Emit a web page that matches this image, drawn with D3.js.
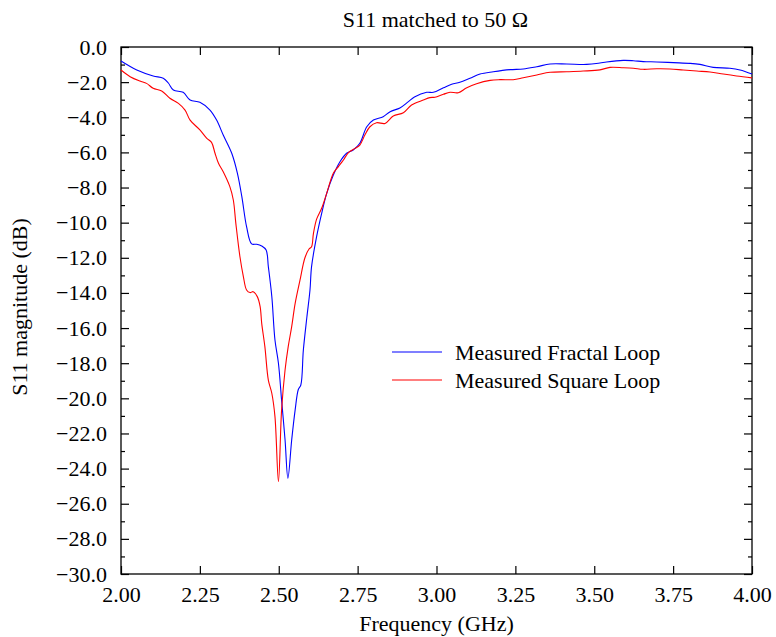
<!DOCTYPE html>
<html>
<head>
<meta charset="utf-8">
<script src="https://cdn.jsdelivr.net/npm/d3@7"></script>
<style>
  html, body { margin: 0; padding: 0; background: #fff; }
  svg { display: block; font-family: "Liberation Serif", "DejaVu Serif", serif; }
</style>
</head>
<body>
<svg id="chart" width="776" height="637"></svg>
<script>
// Measured return loss, frequency in GHz, magnitude in dB
const fractalFreq = [2.000, 2.050, 2.102, 2.134, 2.150, 2.166, 2.197, 2.219, 2.250, 2.282, 2.303, 2.324, 2.351, 2.369, 2.383, 2.398, 2.414, 2.430, 2.446, 2.460, 2.467, 2.478, 2.488, 2.499, 2.509, 2.520, 2.529, 2.541, 2.552, 2.562, 2.570, 2.578, 2.589, 2.599, 2.604, 2.620, 2.636, 2.652, 2.673, 2.694, 2.715, 2.736, 2.757, 2.779, 2.800, 2.831, 2.853, 2.884, 2.911, 2.930, 2.969, 2.990, 3.022, 3.048, 3.074, 3.106, 3.138, 3.180, 3.233, 3.275, 3.318, 3.360, 3.413, 3.476, 3.518, 3.539, 3.592, 3.624, 3.655, 3.698, 3.751, 3.804, 3.835, 3.877, 3.930, 3.962, 4.000];
const fractalS11 = [-0.80, -1.31, -1.65, -1.78, -2.05, -2.45, -2.58, -3.02, -3.15, -3.59, -4.16, -5.01, -6.05, -7.19, -8.52, -10.23, -11.21, -11.23, -11.33, -11.56, -12.50, -14.20, -16.68, -18.00, -20.10, -22.37, -24.55, -22.37, -20.66, -19.50, -19.24, -17.25, -15.40, -13.83, -12.50, -10.80, -9.47, -8.33, -7.29, -6.53, -6.05, -5.86, -5.48, -4.54, -4.16, -3.97, -3.68, -3.47, -3.11, -2.85, -2.58, -2.58, -2.32, -2.12, -2.01, -1.78, -1.54, -1.41, -1.29, -1.25, -1.12, -0.97, -0.97, -0.99, -0.91, -0.85, -0.76, -0.78, -0.83, -0.85, -0.89, -0.93, -0.99, -1.16, -1.21, -1.31, -1.54];

const squareFreq = [2.000, 2.029, 2.060, 2.081, 2.102, 2.129, 2.155, 2.182, 2.203, 2.219, 2.250, 2.272, 2.287, 2.298, 2.309, 2.324, 2.345, 2.356, 2.364, 2.377, 2.388, 2.398, 2.409, 2.419, 2.432, 2.441, 2.446, 2.456, 2.467, 2.478, 2.488, 2.499, 2.509, 2.520, 2.530, 2.541, 2.552, 2.567, 2.583, 2.596, 2.604, 2.610, 2.620, 2.636, 2.652, 2.673, 2.689, 2.705, 2.721, 2.742, 2.757, 2.773, 2.789, 2.810, 2.837, 2.863, 2.895, 2.921, 2.958, 2.979, 2.995, 3.022, 3.043, 3.069, 3.096, 3.127, 3.170, 3.201, 3.243, 3.275, 3.318, 3.360, 3.413, 3.465, 3.518, 3.550, 3.592, 3.624, 3.655, 3.698, 3.740, 3.782, 3.825, 3.867, 3.909, 3.951, 4.000];
const squareS11 = [-1.31, -1.69, -1.94, -2.07, -2.35, -2.50, -2.92, -3.21, -3.59, -4.16, -4.72, -5.20, -5.43, -6.05, -6.62, -7.10, -7.95, -8.71, -10.04, -11.94, -13.08, -13.83, -13.98, -13.93, -14.21, -14.78, -15.73, -17.06, -18.96, -19.71, -21.04, -24.74, -20.66, -18.39, -17.06, -15.92, -14.59, -13.30, -12.00, -11.50, -11.37, -10.61, -9.80, -9.18, -8.33, -7.19, -6.81, -6.43, -6.01, -5.77, -5.58, -5.01, -4.54, -4.31, -4.35, -3.93, -3.74, -3.30, -3.02, -2.88, -2.86, -2.69, -2.58, -2.60, -2.32, -2.09, -1.90, -1.86, -1.86, -1.75, -1.59, -1.44, -1.41, -1.37, -1.30, -1.16, -1.18, -1.21, -1.27, -1.24, -1.25, -1.31, -1.37, -1.42, -1.54, -1.65, -1.76];

const seriesNames = ["Measured Fractal Loop", "Measured Square Loop"];
const seriesColors = ["#0000ff", "#ff0000"];

const xTicks = [2.00, 2.25, 2.50, 2.75, 3.00, 3.25, 3.50, 3.75, 4.00];
const yMajorTicks = d3.range(0, -31, -2);
const yMinorTicks = d3.range(-1, -30, -2);

const chartTitle = "S11 matched to 50 \u03A9";
const xTitle = "Frequency (GHz)";
const yTitle = "S11 magnitude (dB)";

// Plot frame
const plotLeft = 121, plotRight = 752, plotTop = 47, plotBottom = 574;

const svg = d3.select("#chart");
const x = d3.scaleLinear().domain([2, 4]).range([plotLeft, plotRight]);
const y = d3.scaleLinear().domain([-30, 0]).range([plotBottom, plotTop]);

const fmtY = v => (v < 0 ? "\u2212" : "") + Math.abs(v).toFixed(1);
const fmtX = v => v.toFixed(2);

const fontSize = 22;

// Bottom axis: inward major ticks and labels
const xBottom = d3.axisBottom(x).tickValues(xTicks).tickFormat(fmtX)
  .tickSizeInner(-8).tickSizeOuter(0).tickPadding(12);
const gxb = svg.append("g").attr("transform", `translate(0,${plotBottom})`).call(xBottom);

// Top axis: ticks only
const xTopAxis = d3.axisTop(x).tickValues(xTicks).tickFormat("")
  .tickSizeInner(-8).tickSizeOuter(0);
const gxt = svg.append("g").attr("transform", `translate(0,${plotTop})`).call(xTopAxis);

// Left axis: major labelled ticks plus minor ticks
const yLeft = d3.axisLeft(y).tickValues(yMajorTicks).tickFormat(fmtY)
  .tickSizeInner(-8).tickSizeOuter(0).tickPadding(14);
const gyl = svg.append("g").attr("transform", `translate(${plotLeft},0)`).call(yLeft);
const yLeftMinor = d3.axisLeft(y).tickValues(yMinorTicks).tickFormat("")
  .tickSizeInner(-4).tickSizeOuter(0);
const gylm = svg.append("g").attr("transform", `translate(${plotLeft},0)`).call(yLeftMinor);

// Right axis: ticks only
const yRight = d3.axisRight(y).tickValues(yMajorTicks).tickFormat("")
  .tickSizeInner(-8).tickSizeOuter(0);
const gyr = svg.append("g").attr("transform", `translate(${plotRight},0)`).call(yRight);
const yRightMinor = d3.axisRight(y).tickValues(yMinorTicks).tickFormat("")
  .tickSizeInner(-4).tickSizeOuter(0);
const gyrm = svg.append("g").attr("transform", `translate(${plotRight},0)`).call(yRightMinor);

[gxb, gxt, gyl, gylm, gyr, gyrm].forEach(g => {
  g.select(".domain").remove();
  g.selectAll(".tick line").attr("stroke", "#000").attr("stroke-width", 1.2);
  g.selectAll("text")
    .attr("fill", "#000")
    .style("font-family", "'Liberation Serif', serif")
    .style("font-size", fontSize + "px");
});

// Frame
svg.append("rect")
  .attr("x", plotLeft).attr("y", plotTop)
  .attr("width", plotRight - plotLeft).attr("height", plotBottom - plotTop)
  .attr("fill", "none").attr("stroke", "#000").attr("stroke-width", 1.3);

// Data lines
const series = [
  { name: seriesNames[0], color: seriesColors[0], pts: fractalFreq.map((f, i) => [f, fractalS11[i]]) },
  { name: seriesNames[1], color: seriesColors[1], pts: squareFreq.map((f, i) => [f, squareS11[i]]) }
];

const line = d3.line()
  .x(d => x(d[0]))
  .y(d => y(d[1]))
  .curve(d3.curveCatmullRom.alpha(0.5));

svg.append("g").selectAll("path")
  .data(series)
  .join("path")
  .attr("d", d => line(d.pts))
  .attr("fill", "none")
  .attr("stroke", d => d.color)
  .attr("stroke-width", 1.1);

// Legend
const legend = svg.append("g").attr("transform", "translate(392,352)");
series.forEach((s, i) => {
  const gy = i * 28;
  legend.append("line")
    .attr("x1", 0).attr("x2", 50).attr("y1", gy).attr("y2", gy)
    .attr("stroke", s.color).attr("stroke-width", 1.1);
  legend.append("text")
    .attr("x", 63).attr("y", gy + 7.8)
    .style("font-size", fontSize + "px")
    .attr("fill", "#000")
    .text(s.name);
});

// Titles
svg.append("text")
  .attr("x", (plotLeft + plotRight) / 2 - 1).attr("y", 27)
  .attr("text-anchor", "middle")
  .style("font-size", fontSize + "px")
  .text(chartTitle);

svg.append("text")
  .attr("x", (plotLeft + plotRight) / 2).attr("y", 631)
  .attr("text-anchor", "middle")
  .style("font-size", fontSize + "px")
  .text(xTitle);

svg.append("text")
  .attr("transform", `translate(27,307) rotate(-90)`)
  .attr("text-anchor", "middle")
  .style("font-size", fontSize + "px")
  .text(yTitle);
</script>
</body>
</html>
